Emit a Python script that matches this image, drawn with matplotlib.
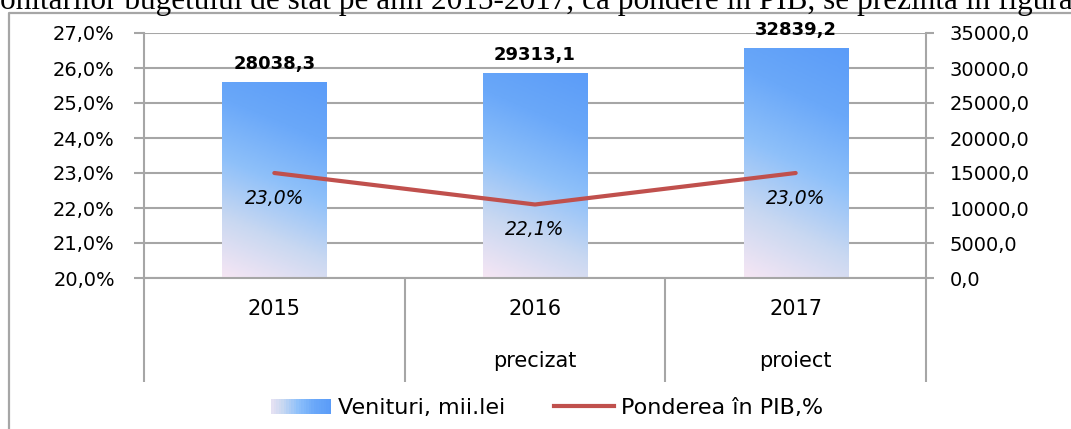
"""Venituri bugetare si ponderea in PIB, 2015-2017."""
import numpy as np
import matplotlib
matplotlib.use("Agg")
import matplotlib.pyplot as plt
from matplotlib.colors import LinearSegmentedColormap
from matplotlib.lines import Line2D
from matplotlib.patches import Patch, Rectangle
from matplotlib.legend_handler import HandlerBase

# data
years = ["2015", "2016", "2017"]
subtitles = ["", "precizat", "proiect"]
venituri = [28038.3, 29313.1, 32839.2]
pondere = [23.0, 22.1, 23.0]
venituri_labels = ["28038,3", "29313,1", "32839,2"]
pondere_labels = ["23,0%", "22,1%", "23,0%"]
left_ticks = [20, 21, 22, 23, 24, 25, 26, 27]
right_ticks = [0, 5000, 10000, 15000, 20000, 25000, 30000, 35000]

GRID = "#a6a6a6"
LINE = "#c0504d"
SANS = "DejaVu Sans"

cmap = LinearSegmentedColormap.from_list(
    "bar", ["#f6e6f4", "#c9d8f1", "#8ec0fa", "#6aa8f9", "#5b9cf8"])


class GradientHandler(HandlerBase):
    """Legend key drawn as a horizontal gradient strip."""

    def create_artists(self, legend, orig_handle, xdescent, ydescent,
                       width, height, fontsize, trans):
        n = 24
        out = []
        for i in range(n):
            r = Rectangle((-xdescent + width * i / n, -ydescent), width / n * 1.05, height,
                          facecolor=cmap(0.1 + 0.9 * i / (n - 1)), edgecolor="none",
                          transform=trans)
            out.append(r)
        return out


fig = plt.figure(figsize=(10.71, 4.29), dpi=100)

# clipped caption line from the page above the chart
fig.text(0.0, 1 - 9 / 429, "onitarilor bugetului de stat pe anii 2015-2017, ca pondere în PIB, "
         "se prezintă în figura", family="Liberation Serif", fontsize=22.5,
         ha="left", va="baseline")

# chart frame (left and top only visible)
fig.add_artist(Line2D([9 / 1071, 9 / 1071, 1.0], [0.0, 1 - 13 / 429, 1 - 13 / 429],
                      transform=fig.transFigure, color=GRID, lw=1.6))

ax = fig.add_axes([144 / 1071, 1 - 278 / 429, (926 - 144) / 1071, 245 / 429])
x = np.arange(len(years))

# bars with gradient fill
gy, gx = np.mgrid[0:1:200j, 0:1:60j]
grad = 0.82 * gy + 0.18 * gx
bars = ax.bar(x, venituri, width=0.4, color="none", zorder=2)
for bar in bars:
    img = ax.imshow(grad, cmap=cmap, origin="lower", aspect="auto", zorder=2,
                    extent=[bar.get_x(), bar.get_x() + bar.get_width(), 0, bar.get_height()])
    img.set_clip_path(bar)
for xi, v, lab in zip(x, venituri, venituri_labels):
    ax.annotate(lab, (xi, v), xytext=(0, 13), textcoords="offset points",
                ha="center", va="center", fontsize=13, fontweight="bold", family=SANS)

ax.set_xlim(-0.5, 2.5)
ax.set_ylim(0, 35000)
ax.set_yticks(right_ticks)
ax.set_yticklabels([f"{t},0" for t in right_ticks], fontsize=14, family=SANS)
ax.grid(axis="y", color=GRID, lw=1.5, zorder=0)
ax.set_axisbelow(True)

# category axis: separators as long ticks, labels as text
ax.set_xticks([-0.5, 0.5, 1.5, 2.5])
ax.set_xticklabels([])
ax.tick_params(axis="x", direction="out", length=75, width=1.5, color=GRID)
for xi, yr, sub in zip(x, years, subtitles):
    ax.annotate(yr, (xi, 0), xycoords=("data", "axes fraction"), xytext=(0, -22),
                textcoords="offset points", ha="center", va="center", fontsize=15, family=SANS)
    ax.annotate(sub, (xi, 0), xycoords=("data", "axes fraction"), xytext=(0, -60),
                textcoords="offset points", ha="center", va="center", fontsize=15, family=SANS)

for side in ["left", "right", "bottom"]:
    ax.spines[side].set_color(GRID)
    ax.spines[side].set_linewidth(1.5)
ax.spines["top"].set_visible(False)

# percentage line on the left axis
ax2 = ax.twinx()
ax.yaxis.tick_right()
ax.tick_params(axis="y", direction="out", length=6, width=1.5, color=GRID, pad=11)
ax2.plot(x, pondere, color=LINE, lw=3, solid_capstyle="round", zorder=3)
for xi, p, lab in zip(x, pondere, pondere_labels):
    ax2.annotate(lab, (xi, p), xytext=(0, -18), textcoords="offset points",
                 ha="center", va="center", fontsize=13.5, style="italic", family=SANS)
ax2.set_ylim(20, 27)
ax2.set_yticks(left_ticks)
ax2.set_yticklabels([f"{t},0%" for t in left_ticks], fontsize=14, family=SANS)
ax2.yaxis.tick_left()
ax2.tick_params(axis="y", direction="out", length=7, width=1.5, color=GRID, pad=14)
for s in ax2.spines.values():
    s.set_visible(False)

# legend
bar_key = Patch(facecolor="#7db4f9", edgecolor="none")
line_key = Line2D([0], [0], color=LINE, lw=3)
fig.legend([bar_key, line_key], ["Venituri, mii.lei", "Ponderea în PIB,%"], loc="center",
           bbox_to_anchor=(547 / 1071, 1 - 408 / 429), ncol=2, frameon=False,
           prop={"family": SANS, "size": 16}, handlelength=2.7, handleheight=0.68,
           handletextpad=0.3, columnspacing=2.2,
           handler_map={Patch: GradientHandler()})

fig.savefig("out.png", dpi=100)
